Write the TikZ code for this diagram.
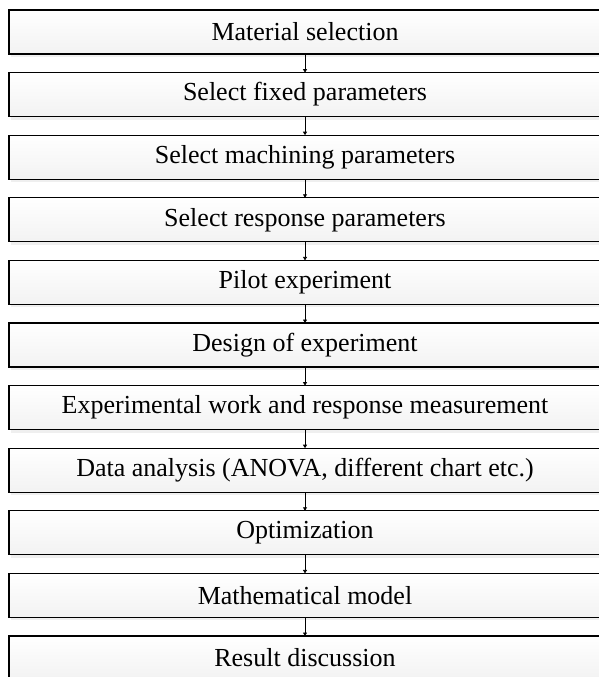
\documentclass[tikz,border=0pt]{standalone}
\usepackage{fontspec}
\setmainfont{Liberation Serif}
\usepackage{xcolor}
\usepackage{tikz}
\usetikzlibrary{arrows.meta,positioning,shadows}
\colorlet{boxedge}{black}
\colorlet{boxtop}{white}
\colorlet{boxbottom}{black!5}
\tikzset{
    stagebox/.style={
        rectangle, draw=boxedge, line width=1.2pt,
        top color=boxtop, bottom color=boxbottom, align=center,
        inner sep=0pt, outer sep=0pt,
        minimum height=44pt, minimum width=592pt,
        font=\fontsize{26}{30}\selectfont,
        drop shadow={shadow xshift=2pt, shadow yshift=-3pt,
            fill=black!12, opacity=0.5}
    },
    flow/.style={-{Triangle[length=3.5pt, width=4pt]}, line width=0.8pt, draw=boxedge}
}
\begin{document}
\begin{tikzpicture}[node distance=18.6pt]
        \useasboundingbox (0,0) rectangle (598pt,-677pt);
        % stages of the study, top to bottom
        \node[stagebox] (s1) at (305pt,-32pt) {Material selection};
        \node[stagebox, below=of s1] (s2) {Select fixed parameters};
        \node[stagebox, below=of s2] (s3) {Select machining parameters};
        \node[stagebox, below=of s3] (s4) {Select response parameters};
        \node[stagebox, below=of s4] (s5) {Pilot experiment};
        \node[stagebox, below=of s5] (s6) {Design of experiment};
        \node[stagebox, below=of s6] (s7) {Experimental work and response measurement};
        \node[stagebox, below=of s7] (s8) {Data analysis (ANOVA, different chart etc.)};
        \node[stagebox, below=of s8] (s9) {Optimization};
        \node[stagebox, below=of s9] (s10) {Mathematical model};
        \node[stagebox, below=of s10] (s11) {Result discussion};
        % connectors
        \foreach \a/\b in {s1/s2,s2/s3,s3/s4,s4/s5,s5/s6,s6/s7,s7/s8,s8/s9,s9/s10,s10/s11}
            \draw[flow] (\a.south) -- (\b.north);
    \end{tikzpicture}
\end{document}
